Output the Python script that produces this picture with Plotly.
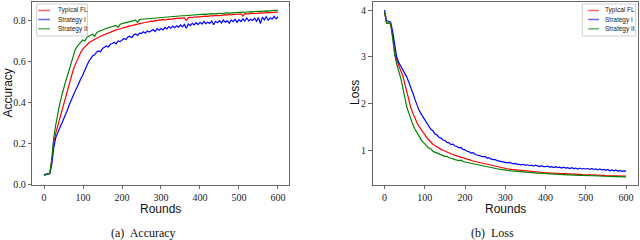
import plotly.graph_objects as go

rounds = list(range(0, 601, 5))
series_names = ["Typical FL", "Strategy I", "Strategy II"]
series_colors = ["#ff0000", "#0000ff", "#008000"]

acc_typical = [
    0.048, 0.050, 0.052, 0.055, 0.120, 0.205, 0.250, 0.285, 0.318, 0.352,
    0.387, 0.421, 0.456, 0.492, 0.528, 0.560, 0.585, 0.608, 0.630, 0.648,
    0.662, 0.674, 0.681, 0.691, 0.697, 0.704, 0.708, 0.714, 0.718, 0.723,
    0.727, 0.732, 0.736, 0.741, 0.743, 0.749, 0.750, 0.754, 0.756, 0.761,
    0.762, 0.765, 0.769, 0.770, 0.774, 0.775, 0.779, 0.780, 0.782, 0.785,
    0.786, 0.789, 0.790, 0.793, 0.794, 0.797, 0.796, 0.800, 0.799, 0.803,
    0.802, 0.805, 0.803, 0.806, 0.807, 0.805, 0.809, 0.808, 0.811, 0.810,
    0.812, 0.811, 0.813, 0.801, 0.814, 0.815, 0.814, 0.817, 0.816, 0.818,
    0.818, 0.820, 0.819, 0.821, 0.820, 0.823, 0.822, 0.824, 0.823, 0.825,
    0.824, 0.826, 0.825, 0.828, 0.826, 0.829, 0.827, 0.830, 0.829, 0.831,
    0.830, 0.832, 0.821, 0.833, 0.832, 0.834, 0.833, 0.835, 0.834, 0.836,
    0.835, 0.837, 0.836, 0.838, 0.837, 0.839, 0.838, 0.840, 0.839, 0.840,
    0.841,
]
acc_strategy1 = [
    0.048, 0.050, 0.052, 0.055, 0.100, 0.180, 0.228, 0.255, 0.275, 0.296,
    0.316, 0.342, 0.364, 0.391, 0.410, 0.432, 0.456, 0.476, 0.500, 0.519,
    0.537, 0.562, 0.581, 0.601, 0.612, 0.628, 0.633, 0.647, 0.652, 0.648,
    0.664, 0.669, 0.676, 0.671, 0.684, 0.688, 0.694, 0.686, 0.700, 0.697,
    0.706, 0.712, 0.707, 0.719, 0.723, 0.716, 0.729, 0.734, 0.727, 0.738,
    0.737, 0.745, 0.738, 0.749, 0.744, 0.752, 0.756, 0.746, 0.760, 0.753,
    0.761, 0.754, 0.766, 0.759, 0.770, 0.762, 0.773, 0.765, 0.774, 0.767,
    0.778, 0.769, 0.781, 0.762, 0.783, 0.775, 0.786, 0.778, 0.789, 0.780,
    0.791, 0.782, 0.795, 0.784, 0.792, 0.786, 0.797, 0.779, 0.796, 0.789,
    0.799, 0.788, 0.802, 0.792, 0.798, 0.787, 0.803, 0.794, 0.806, 0.791,
    0.804, 0.795, 0.808, 0.797, 0.812, 0.798, 0.806, 0.800, 0.811, 0.796,
    0.814, 0.785, 0.816, 0.803, 0.818, 0.801, 0.813, 0.806, 0.820, 0.808,
    0.818,
]
acc_strategy2 = [
    0.045, 0.050, 0.052, 0.056, 0.125, 0.230, 0.290, 0.345, 0.390, 0.430,
    0.470, 0.500, 0.530, 0.560, 0.592, 0.625, 0.658, 0.674, 0.687, 0.696,
    0.705, 0.700, 0.718, 0.722, 0.728, 0.733, 0.722, 0.741, 0.746, 0.749,
    0.755, 0.757, 0.762, 0.765, 0.768, 0.771, 0.774, 0.776, 0.767, 0.781,
    0.785, 0.787, 0.790, 0.792, 0.795, 0.797, 0.800, 0.801, 0.791, 0.804,
    0.806, 0.807, 0.808, 0.809, 0.810, 0.811, 0.812, 0.813, 0.813, 0.814,
    0.815, 0.816, 0.816, 0.817, 0.818, 0.819, 0.819, 0.820, 0.821, 0.821,
    0.822, 0.823, 0.823, 0.824, 0.825, 0.825, 0.826, 0.827, 0.827, 0.828,
    0.830, 0.829, 0.831, 0.830, 0.832, 0.831, 0.833, 0.832, 0.834, 0.833,
    0.835, 0.834, 0.836, 0.835, 0.837, 0.836, 0.837, 0.838, 0.839, 0.838,
    0.840, 0.839, 0.841, 0.840, 0.842, 0.841, 0.843, 0.842, 0.844, 0.843,
    0.845, 0.844, 0.846, 0.845, 0.847, 0.846, 0.848, 0.847, 0.849, 0.848,
    0.850,
]

loss_typical = [
    3.95, 3.72, 3.72, 3.70, 3.45, 3.10, 2.93, 2.82, 2.73, 2.60,
    2.43, 2.25, 2.08, 1.92, 1.80, 1.69, 1.60, 1.52, 1.45, 1.38,
    1.32, 1.27, 1.22, 1.17, 1.13, 1.10, 1.07, 1.04, 1.02, 1.00,
    0.98, 0.96, 0.94, 0.92, 0.91, 0.89, 0.88, 0.86, 0.85, 0.84,
    0.82, 0.81, 0.80, 0.78, 0.77, 0.76, 0.75, 0.74, 0.72, 0.71,
    0.70, 0.69, 0.68, 0.67, 0.66, 0.65, 0.64, 0.63, 0.62, 0.61,
    0.605, 0.60, 0.595, 0.59, 0.585, 0.58, 0.575, 0.57, 0.565, 0.56,
    0.56, 0.555, 0.55, 0.545, 0.54, 0.54, 0.535, 0.53, 0.53, 0.525,
    0.52, 0.52, 0.515, 0.515, 0.51, 0.51, 0.505, 0.505, 0.50, 0.50,
    0.50, 0.495, 0.495, 0.49, 0.49, 0.49, 0.485, 0.485, 0.48, 0.48,
    0.48, 0.48, 0.475, 0.475, 0.47, 0.47, 0.47, 0.465, 0.465, 0.465,
    0.46, 0.46, 0.46, 0.455, 0.455, 0.455, 0.45, 0.455, 0.45, 0.45,
    0.45,
]
loss_strategy1 = [
    4.00, 3.77, 3.76, 3.74, 3.55, 3.25, 3.00, 2.88, 2.80, 2.73,
    2.66, 2.57, 2.46, 2.36, 2.23, 2.10, 1.98, 1.87, 1.79, 1.72,
    1.66, 1.58, 1.52, 1.45, 1.42, 1.35, 1.33, 1.28, 1.26, 1.22,
    1.21, 1.17, 1.16, 1.12, 1.13, 1.09, 1.08, 1.05, 1.06, 1.02,
    1.01, 0.98, 0.97, 0.94, 0.95, 0.91, 0.90, 0.89, 0.88, 0.86,
    0.87, 0.83, 0.84, 0.81, 0.80, 0.80, 0.78, 0.77, 0.77, 0.75,
    0.75, 0.73, 0.74, 0.72, 0.71, 0.72, 0.70, 0.70, 0.69, 0.70,
    0.68, 0.69, 0.67, 0.68, 0.66, 0.68, 0.66, 0.65, 0.67, 0.65,
    0.65, 0.66, 0.64, 0.65, 0.63, 0.65, 0.63, 0.64, 0.62, 0.64,
    0.62, 0.63, 0.61, 0.63, 0.61, 0.62, 0.60, 0.62, 0.60, 0.61,
    0.60, 0.61, 0.59, 0.61, 0.59, 0.60, 0.58, 0.60, 0.58, 0.59,
    0.57, 0.59, 0.56, 0.58, 0.56, 0.58, 0.55, 0.57, 0.55, 0.56,
    0.55,
]
loss_strategy2 = [
    3.95, 3.72, 3.72, 3.70, 3.40, 3.05, 2.85, 2.72, 2.55, 2.35,
    2.12, 1.93, 1.80, 1.66, 1.56, 1.46, 1.38, 1.31, 1.24, 1.18,
    1.13, 1.09, 1.05, 1.03, 0.98, 0.96, 0.94, 0.92, 0.90, 0.88,
    0.87, 0.87, 0.84, 0.83, 0.81, 0.80, 0.79, 0.78, 0.79, 0.76,
    0.75, 0.74, 0.73, 0.72, 0.71, 0.70, 0.69, 0.68, 0.67, 0.66,
    0.65, 0.64, 0.63, 0.62, 0.62, 0.61, 0.60, 0.595, 0.59, 0.58,
    0.575, 0.57, 0.565, 0.56, 0.555, 0.55, 0.545, 0.545, 0.54, 0.535,
    0.53, 0.53, 0.525, 0.52, 0.52, 0.515, 0.51, 0.51, 0.505, 0.505,
    0.50, 0.50, 0.495, 0.495, 0.49, 0.49, 0.485, 0.485, 0.48, 0.48,
    0.48, 0.475, 0.475, 0.47, 0.47, 0.47, 0.465, 0.465, 0.465, 0.46,
    0.46, 0.46, 0.455, 0.455, 0.455, 0.45, 0.45, 0.45, 0.445, 0.445,
    0.445, 0.44, 0.44, 0.44, 0.435, 0.435, 0.435, 0.43, 0.43, 0.43,
    0.43,
]

x_ticks = [0, 100, 200, 300, 400, 500, 600]
acc_ticks = [0.0, 0.2, 0.4, 0.6, 0.8]
acc_tick_labels = ["0.0", "0.2", "0.4", "0.6", "0.8"]
loss_ticks = [1, 2, 3, 4]
loss_tick_labels = ["1", "2", "3", "4"]

W, H = 640, 240
fig = go.Figure()

acc_series = [acc_typical, acc_strategy1, acc_strategy2]
loss_series = [loss_typical, loss_strategy1, loss_strategy2]
for name, color, ys in zip(series_names, series_colors, acc_series):
    fig.add_trace(go.Scatter(x=rounds, y=ys, name=name, mode="lines",
                             line=dict(color=color, width=1.2),
                             xaxis="x", yaxis="y", showlegend=False))
for name, color, ys in zip(series_names, series_colors, loss_series):
    fig.add_trace(go.Scatter(x=rounds, y=ys, name=name, mode="lines",
                             line=dict(color=color, width=1.2),
                             xaxis="x2", yaxis="y2", showlegend=False))

tick_font = dict(family="Liberation Serif", size=10, color="#222")
axis_common = dict(showline=True, mirror=True, linecolor="#666", linewidth=1,
                   ticks="outside", ticklen=3.5, tickcolor="#666", tickwidth=1,
                   showgrid=False, zeroline=False, tickfont=tick_font)

ydom = [1 - 184.7 / H, 1 - 2 / H]
fig.update_layout(
    width=W, height=H,
    margin=dict(l=0, r=0, t=0, b=0, autoexpand=False),
    paper_bgcolor="white", plot_bgcolor="white",
    xaxis=dict(domain=[32.3 / W, 289.3 / W], range=[-30, 629],
               tickvals=x_ticks, anchor="y", **axis_common),
    yaxis=dict(domain=ydom, range=[0.0, 0.89], tickvals=acc_ticks,
               ticktext=acc_tick_labels, anchor="x", **axis_common),
    xaxis2=dict(domain=[372.5 / W, 637.7 / W], range=[-30, 629],
                tickvals=x_ticks, anchor="y2", **axis_common),
    yaxis2=dict(domain=ydom, range=[0.264, 4.171], tickvals=loss_ticks,
                ticktext=loss_tick_labels, anchor="x2", **axis_common),
)

label_font = dict(family="Liberation Sans", size=12, color="#111")
cap_font = dict(family="Liberation Serif", size=12, color="#111")
ann = [
    dict(text="Rounds", x=160.8 / W, y=1 - 208.5 / H, font=label_font),
    dict(text="Rounds", x=505 / W, y=1 - 208.5 / H, font=label_font),
    dict(text="Accuracy", x=7.5 / W, y=1 - 93 / H, font=label_font, textangle=-90),
    dict(text="Loss", x=355 / W, y=1 - 93 / H, font=label_font, textangle=-90),
    dict(text="(a)  Accuracy", x=143 / W, y=1 - 233 / H, font=cap_font),
    dict(text="(b)  Loss", x=492.5 / W, y=1 - 233 / H, font=cap_font),
]
for a in ann:
    fig.add_annotation(xref="paper", yref="paper", showarrow=False,
                       xanchor="center", yanchor="middle", **a)

# hand-drawn legends (matplotlib style)
legend_font = dict(family="Liberation Sans", size=6.5, color="#222")
legend_boxes = [(36.7, 87.5, 38.3, 50.0, 56.0), (582.3, 635.7, 588.3, 599.0, 603.0)]
entry_y = [10.5, 19.5, 28.8]
for (bx0, bx1, lx0, lx1, tx) in legend_boxes:
    fig.add_shape(type="rect", xref="paper", yref="paper",
                  x0=bx0 / W, x1=bx1 / W, y0=1 - 36 / H, y1=1 - 4 / H,
                  line=dict(color="#d0d0d0", width=1), fillcolor="rgba(255,255,255,0.85)")
    for name, color, ey in zip(series_names, series_colors, entry_y):
        fig.add_shape(type="line", xref="paper", yref="paper",
                      x0=lx0 / W, x1=lx1 / W, y0=1 - ey / H, y1=1 - ey / H,
                      line=dict(color=color, width=1.5), opacity=0.6)
        fig.add_annotation(xref="paper", yref="paper", showarrow=False,
                           x=tx / W, y=1 - ey / H, xanchor="left", yanchor="middle",
                           text=name, font=legend_font)

fig.write_html("out.html", config={"displayModeBar": False},
               post_script="document.body.style.margin='0';document.body.style.overflow='hidden';")
